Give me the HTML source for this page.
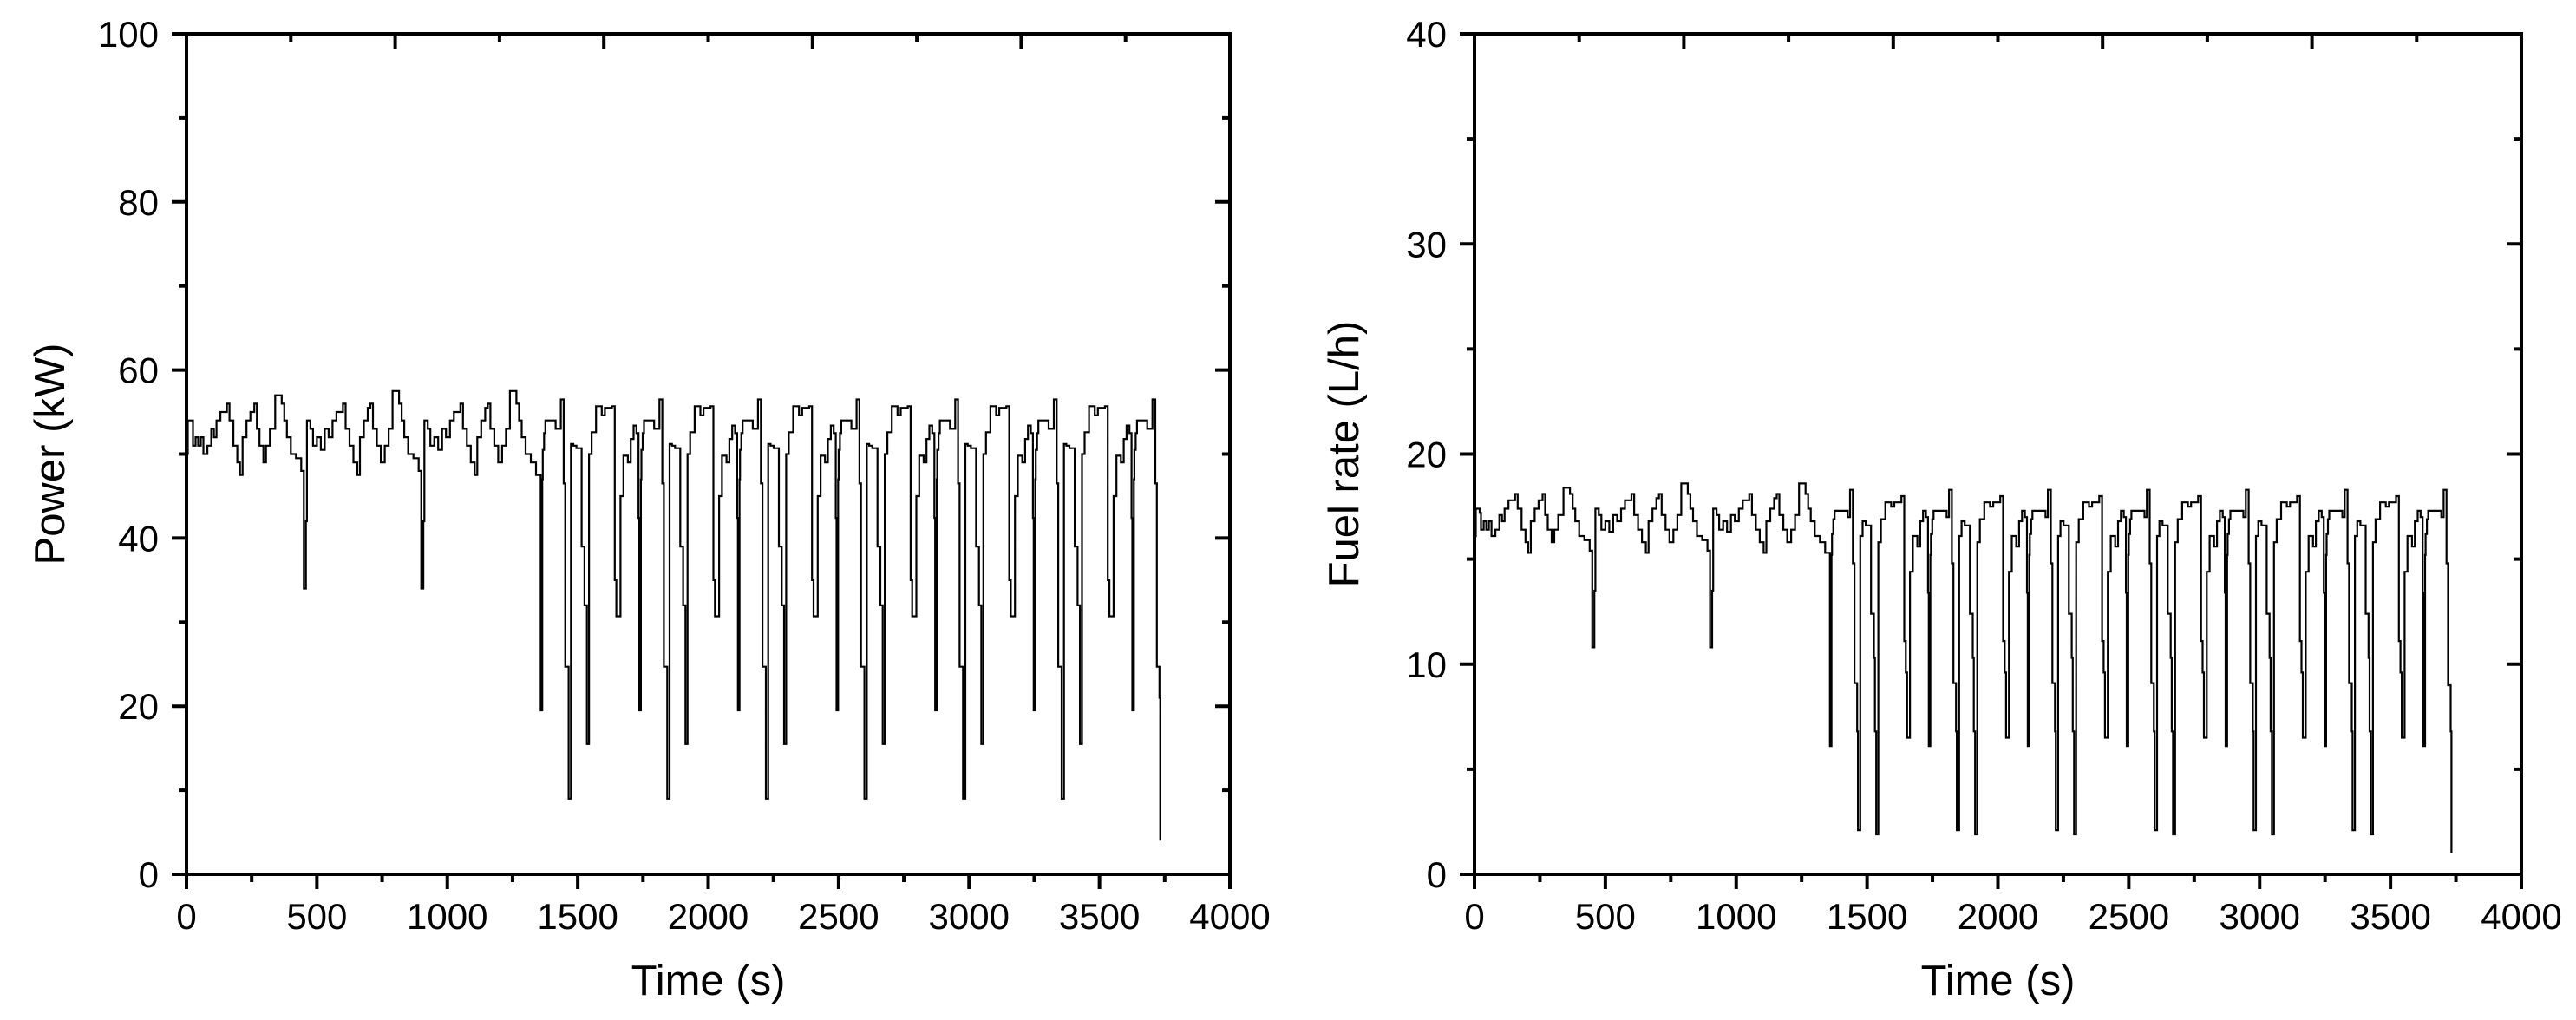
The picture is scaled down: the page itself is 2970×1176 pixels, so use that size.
<!DOCTYPE html>
<html><head><meta charset="utf-8"><style>
html,body{margin:0;padding:0;background:#fff;}
svg{display:block;font-family:"Liberation Sans",Arial,sans-serif;}
</style></head><body>
<svg id="fig" width="2970" height="1176" viewBox="0 0 2970 1176" xmlns="http://www.w3.org/2000/svg">
<rect width="2970" height="1176" fill="#fff"/>
<g id="p1"></g>
<g id="p2"></g>
</svg>
<script>
// ---- data ----
var xTicks = [0, 500, 1000, 1500, 2000, 2500, 3000, 3500, 4000];
var powerTicks = [0, 20, 40, 60, 80, 100];
var fuelTicks = [0, 10, 20, 30, 40];

var earlyTimes = [0,5,20,25,35,45,55,65,80,95,105,115,130,155,165,180,195,205,215,230,245,260,270,280,295,305,320,340,365,375,385,400,420,440,450,458,462,475,485,500,515,530,545,560,575,600,610,625,640,655,665,680,695,705,715,730,745,760,775,790,815,825,835,850,870,890,900,908,912,925,935,950,965,980,995,1010,1025,1050,1060,1075,1090,1105,1115,1130,1145,1155,1165,1180,1195,1210,1225,1240,1265,1275,1285,1300,1320,1340];
var earlyPower = [50,54,54,51,52,51,52,50,51,53,52,54,55,56,54,51,49,47.5,52,54,55,56,53,51,49,51,53,57,56,54,52,50,49.5,48,34,42,54,53,51,52,50.5,53,52,54,55,56,53,51,49,47.5,52,54,55.5,56,53,51,49,51,53,57.5,56,54,52,50,49.5,48,34,42,54,53,51,52,50.5,53,52,54,55,56,53,51,49,47.5,52,54,55.5,56,53,51,49,51,53,57.5,56,54,52,50,49,47.5];
var earlyFuel = [16.1,17.4,17.2,16.4,16.8,16.4,16.8,16.1,16.4,17.1,16.8,17.4,17.8,18.1,17.4,16.4,15.8,15.3,16.8,17.4,17.8,18.1,17.1,16.4,15.8,16.4,17.1,18.4,18.1,17.4,16.8,16.1,15.9,15.4,10.8,13.5,17.4,17.1,16.4,16.8,16.3,17.1,16.8,17.4,17.8,18.1,17.1,16.4,15.8,15.3,16.8,17.4,17.9,18.1,17.1,16.4,15.8,16.4,17.1,18.6,18.1,17.4,16.8,16.1,15.9,15.4,10.8,13.5,17.4,17.1,16.4,16.8,16.3,17.1,16.8,17.4,17.8,18.1,17.1,16.4,15.8,15.3,16.8,17.4,17.9,18.1,17.1,16.4,15.8,16.4,17.1,18.6,18.1,17.4,16.8,16.1,15.8,15.3];

var cycleStarts = [1358, 1736, 2114, 2492, 2870, 3248, 3626];
var cycleOffsets = [0,6,8,13,18,57,68,77,88,94,104,107,116,125,137,157,168,172,177,185,195,212,234,246,273,284,290,295,306,317,334,345,356,367,375];
var cyclePower = [19.5,47,50.5,52.5,54,53,53,56.5,46.5,24.7,24.7,9,51.2,51,50.7,39,32,32,15.5,50,52.6,55.7,54.6,55.5,55.7,35,30.7,30.7,45,49.8,49,51.8,53.4,52.5,42.4];
var cycleFuel = [6.1,15.2,16.2,16.9,17.3,17.3,17,18.3,14.8,9.1,6.8,2.1,16.1,16.8,16.6,12.4,10.3,6.8,1.9,15.8,16.9,17.7,17.5,17.7,18,11.1,9.6,6.5,14.4,16.1,15.6,16.8,17.3,17,13.4];
var endTime = 3733;
var endPower = [46.5, 24.7, 21, 4];
var endFuel = [14.8, 9, 6.8, 1];
var endOffsets = [88, 94, 104, 107];

// ---- layout ----
var NS = "http://www.w3.org/2000/svg";
function el(tag, attrs, parent){var e=document.createElementNS(NS,tag);for(var k in attrs)e.setAttribute(k,attrs[k]);parent.appendChild(e);return e;}

function buildSeries(early, cyc, endv){
  var pts=[];
  for(var i=0;i<earlyTimes.length;i++)pts.push([earlyTimes[i],early[i]]);
  for(var c=0;c<cycleStarts.length;c++){
    var last=(c===cycleStarts.length-1);
    if(last){
      for(var j=0;j<cycleOffsets.length&&cycleOffsets[j]<88;j++)pts.push([cycleStarts[c]+cycleOffsets[j],cyc[j]]);
      for(var k=0;k<endOffsets.length;k++)pts.push([cycleStarts[c]+endOffsets[k],endv[k]]);
    } else {
      for(var j2=0;j2<cycleOffsets.length;j2++)pts.push([cycleStarts[c]+cycleOffsets[j2],cyc[j2]]);
    }
  }
  return pts;
}

function drawChart(g, L, R, T, B, yMax, yTicks, yMinorStep, pts, yTitle, titleX){
  var X=function(t){return L+(R-L)*t/4000;};
  var Y=function(v){return B-(B-T)*v/yMax;};
  // series (step)
  var d="M"+X(pts[0][0]).toFixed(1)+","+Y(pts[0][1]).toFixed(1);
  for(var i=1;i<pts.length;i++){d+="H"+X(pts[i][0]).toFixed(1)+"V"+Y(pts[i][1]).toFixed(1);}
  var line=el("path",{d:d,fill:"none",stroke:"#000","stroke-width":"2.2","stroke-linejoin":"miter"},g);
  
  
  // frame
  var fr=el("rect",{x:L,y:T,width:R-L,height:B-T,fill:"none",stroke:"#000","stroke-width":"4"},g);
  
  
  var tg=el("g",{stroke:"#000","stroke-width":"4"},g);
  
  
  // x ticks bottom
  for(var t=0;t<=4000;t+=250){var maj=(t%500===0);el("line",{x1:X(t),x2:X(t),y1:B,y2:B+(maj?17:9)},tg);}
  // top ticks (inward) at fifths
  for(var f=1;f<10;f++){var xx=L+(R-L)*f/10;el("line",{x1:xx,x2:xx,y1:T,y2:T+(f%2===0?17:9)},tg);}
  // y ticks left outward, right inward
  for(var v=0;v<=yMax+0.001;v+=yMinorStep){var majy=(Math.abs((v/(yMinorStep*2))-Math.round(v/(yMinorStep*2)))<1e-6);
    el("line",{x1:L-(majy?17:9),x2:L,y1:Y(v),y2:Y(v)},tg);
    el("line",{x1:R-(majy?17:9),x2:R,y1:Y(v),y2:Y(v)},tg);}
  // labels
  for(var a=0;a<xTicks.length;a++){var tx=el("text",{x:X(xTicks[a]),y:1071,"font-size":"42","text-anchor":"middle"},g);tx.textContent=xTicks[a];
    
    }
  for(var b=0;b<yTicks.length;b++){var ty=el("text",{x:L-32,y:Y(yTicks[b])+15,"font-size":"42","text-anchor":"end"},g);ty.textContent=yTicks[b];
    
    }
  var xt=el("text",{x:(L+R)/2,y:1147,"font-size":"49","text-anchor":"middle"},g);xt.textContent="Time (s)";
  
  
  var cy=(T+B)/2;
  var yt=el("text",{x:titleX,y:cy,"font-size":"49","text-anchor":"middle",transform:"rotate(-90 "+titleX+" "+cy+")"},g);yt.textContent=yTitle;
  
  
}

drawChart(document.getElementById("p1"),215,1418,39,1008,100,powerTicks,10,buildSeries(earlyPower,cyclePower,endPower),"Power (kW)",74);
drawChart(document.getElementById("p2"),1700,2907,39,1008,40,fuelTicks,5,buildSeries(earlyFuel,cycleFuel,endFuel),"Fuel rate (L/h)",1566);
</script>
</body></html>
